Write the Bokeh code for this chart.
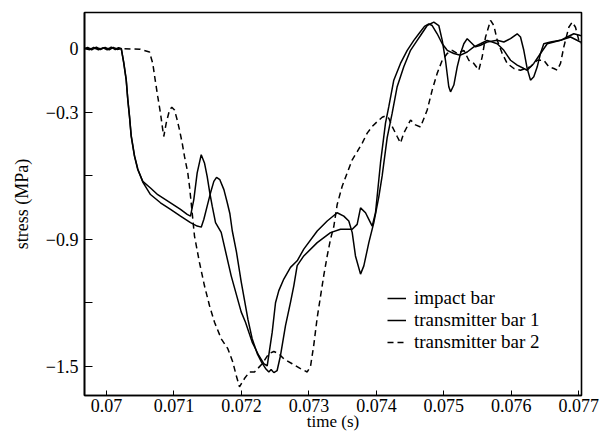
import math
from bokeh.plotting import figure
from bokeh.models import (FixedTicker, CustomJSTickFormatter, Legend,
                          LegendItem, Range1d)
from bokeh.embed import file_html
from bokeh.resources import INLINE

# ---------------- data (time in s, stress in MPa) ----------------
impact_t = [0.069674, 0.06972, 0.06978, 0.06985, 0.06991, 0.06998, 0.07004, 0.07010, 0.07016, 0.07022,
            0.070256, 0.070292, 0.070316, 0.070341, 0.070366, 0.070415, 0.070464, 0.070538, 0.070652,
            0.070760, 0.070949, 0.071097, 0.071196, 0.071245, 0.071294, 0.071344, 0.071404, 0.071452,
            0.071492, 0.071531, 0.071567, 0.071616, 0.071700, 0.071848, 0.071996, 0.072060, 0.072159,
            0.072257, 0.072331, 0.072382, 0.072405, 0.072456, 0.072505, 0.072554, 0.072628, 0.072727,
            0.072826, 0.072924, 0.073123, 0.073271, 0.073419, 0.073517, 0.073591, 0.073642, 0.073690,
            0.073765, 0.073814, 0.073888, 0.073962, 0.074036, 0.074086, 0.074160, 0.074234, 0.074308,
            0.074406, 0.074506, 0.074605, 0.074654, 0.074753, 0.074851, 0.074925, 0.074976, 0.075024,
            0.075073, 0.075099, 0.075148, 0.075198, 0.075247, 0.075296, 0.075346, 0.075395, 0.075469,
            0.075543, 0.075642, 0.075791, 0.075889, 0.075988, 0.076087, 0.076136, 0.076185, 0.076235,
            0.076284, 0.076333, 0.076384, 0.076432, 0.076481, 0.076581, 0.076729, 0.076828, 0.076926,
            0.077025, 0.07705]
impact_s = [0.0, 0.006, -0.006, 0.007, -0.005, 0.006, -0.006, 0.006, -0.004, 0.0,
            -0.070, -0.149, -0.243, -0.321, -0.415, -0.509, -0.572, -0.627, -0.658,
            -0.690, -0.728, -0.759, -0.783, -0.791, -0.713, -0.587, -0.501, -0.540,
            -0.603, -0.681, -0.744, -0.822, -0.868, -1.073, -1.243, -1.292, -1.386,
            -1.449, -1.488, -1.498, -1.449, -1.339, -1.200, -1.143, -1.088, -1.033,
            -1.002, -0.947, -0.861, -0.814, -0.775, -0.791, -0.814, -0.869, -0.979,
            -1.065, -1.026, -0.916, -0.822, -0.700, -0.600, -0.420, -0.305, -0.180,
            -0.086, -0.008, 0.039, 0.062, 0.109, 0.125, 0.109, 0.039, -0.055,
            -0.180, -0.204, -0.172, -0.086, -0.023, 0.023, 0.047, 0.031, 0.008,
            0.016, 0.031, 0.039, 0.031, 0.047, 0.070, 0.055, -0.008, -0.094,
            -0.149, -0.133, -0.086, -0.023, 0.023, 0.031, 0.039, 0.055, 0.070,
            0.062, 0.060]

tb1_t = [0.069674, 0.06975, 0.06981, 0.06988, 0.06995, 0.07001, 0.07007, 0.07013, 0.07018, 0.070218,
         0.070256, 0.070292, 0.070316, 0.070341, 0.070366, 0.070415, 0.070464, 0.070538, 0.070652,
         0.070800, 0.070949, 0.071097, 0.071245, 0.071344, 0.071404, 0.071443, 0.071492, 0.071542,
         0.071591, 0.071631, 0.071680, 0.071740, 0.071790, 0.071829, 0.071864, 0.071926, 0.071996,
         0.072097, 0.072159, 0.072234, 0.072298, 0.072357, 0.072406, 0.072440, 0.072480, 0.072529,
         0.072579, 0.072653, 0.072727, 0.072776, 0.072826, 0.072924, 0.073123, 0.073320, 0.073468,
         0.073642, 0.073715, 0.073765, 0.073839, 0.073888, 0.073938, 0.073987, 0.074061, 0.074135,
         0.074184, 0.074258, 0.074357, 0.074457, 0.074555, 0.074629, 0.074713, 0.074777, 0.074827,
         0.074901, 0.074976, 0.075050, 0.075148, 0.075247, 0.075346, 0.075444, 0.075543, 0.075642,
         0.075791, 0.075889, 0.075988, 0.076087, 0.076185, 0.076235, 0.076333, 0.076432, 0.076532,
         0.076729, 0.076877, 0.077025, 0.07705]
tb1_s = [0.0, -0.005, 0.006, -0.006, 0.005, -0.006, 0.007, -0.005, 0.004, 0.0,
         -0.065, -0.145, -0.240, -0.320, -0.410, -0.505, -0.568, -0.630, -0.689,
         -0.728, -0.759, -0.791, -0.822, -0.838, -0.843, -0.806, -0.744, -0.681,
         -0.627, -0.608, -0.619, -0.666, -0.728, -0.780, -0.860, -0.960, -1.100,
         -1.280, -1.370, -1.440, -1.480, -1.510, -1.527, -1.515, -1.530, -1.520,
         -1.449, -1.308, -1.198, -1.120, -1.025, -0.979, -0.916, -0.869, -0.853,
         -0.853, -0.830, -0.752, -0.775, -0.806, -0.838, -0.775, -0.540, -0.352,
         -0.274, -0.149, -0.070, -0.008, 0.039, 0.070, 0.105, 0.117, 0.109,
         0.070, 0.023, -0.008, -0.023, -0.031, -0.016, 0.008, 0.023, 0.039,
         0.023, -0.008, -0.055, -0.078, -0.094, -0.102, -0.070, -0.023, 0.023,
         0.039, 0.055, 0.031, 0.030]

tb2_t = [0.069674, 0.07022, 0.07050, 0.070637, 0.070686, 0.070722, 0.070760, 0.070800, 0.070834,
         0.070849, 0.070885, 0.070934, 0.070968, 0.071008, 0.071048, 0.071082, 0.071122, 0.071156,
         0.071205, 0.071230, 0.071255, 0.071304, 0.071378, 0.071452, 0.071527, 0.071601, 0.071700,
         0.071798, 0.071872, 0.071922, 0.071971, 0.072045, 0.072119, 0.072194, 0.072308, 0.072405,
         0.072480, 0.072554, 0.072628, 0.072752, 0.072875, 0.072975, 0.073024, 0.073072, 0.073123,
         0.073172, 0.073221, 0.073271, 0.073320, 0.073369, 0.073419, 0.073493, 0.073567, 0.073642,
         0.073716, 0.073790, 0.073864, 0.073938, 0.074012, 0.074086, 0.074135, 0.074184, 0.074234,
         0.074308, 0.074357, 0.074406, 0.074457, 0.074506, 0.074580, 0.074654, 0.074753, 0.074827,
         0.074901, 0.074976, 0.075050, 0.075124, 0.075198, 0.075296, 0.075370, 0.075444, 0.075518,
         0.075568, 0.075618, 0.075692, 0.075741, 0.075791, 0.075865, 0.075939, 0.076038, 0.076136,
         0.076284, 0.076384, 0.076481, 0.076556, 0.076630, 0.076680, 0.076729, 0.076778, 0.076852,
         0.076902, 0.076951, 0.077001, 0.07704]
tb2_s = [0.0, 0.0, -0.003, -0.016, -0.070, -0.149, -0.227, -0.305, -0.384,
         -0.415, -0.352, -0.290, -0.277, -0.290, -0.337, -0.384, -0.446, -0.509,
         -0.587, -0.650, -0.728, -0.885, -1.010, -1.120, -1.214, -1.292, -1.370,
         -1.417, -1.480, -1.543, -1.597, -1.558, -1.527, -1.527, -1.488, -1.441,
         -1.430, -1.441, -1.465, -1.488, -1.511, -1.527, -1.500, -1.400, -1.270,
         -1.170, -1.070, -0.979, -0.900, -0.840, -0.736, -0.650, -0.587, -0.525,
         -0.486, -0.446, -0.399, -0.368, -0.345, -0.324, -0.318, -0.329, -0.368,
         -0.415, -0.446, -0.399, -0.368, -0.337, -0.360, -0.370, -0.290, -0.196,
         -0.117, -0.055, -0.023, -0.008, -0.023, -0.008, -0.055, -0.070, -0.102,
         -0.039, 0.055, 0.133, 0.109, 0.039, -0.023, -0.070, -0.094, -0.102,
         -0.086, -0.055, -0.055, -0.086, -0.094, -0.102, -0.070, 0.008, 0.101,
         0.125, 0.101, 0.039, 0.023]

series_labels = ["impact bar", "transmitter bar 1", "transmitter bar 2"]
x_ticks = [0.070, 0.071, 0.072, 0.073, 0.074, 0.075, 0.076, 0.077]
y_ticks = [0.0, -0.3, -0.9, -1.5]
y_minor_ticks = [-0.6, -1.2]
x_label = "time (s)"
y_label = "stress (MPa)"

FONT = "Liberation Serif"

p = figure(width=606, height=433, output_backend="svg", toolbar_location=None,
           x_range=Range1d(0.069674, 0.07704), y_range=Range1d(-1.638, 0.1705),
           min_border_left=84, min_border_right=25, min_border_top=12, min_border_bottom=36)
p.grid.visible = False
p.outline_line_color = "black"
p.outline_line_width = 1.6
p.background_fill_color = "white"
p.border_fill_color = "white"

r1 = p.line(impact_t, impact_s, line_color="black", line_width=1.5)
r2 = p.line(tb1_t, tb1_s, line_color="black", line_width=1.5)
r3 = p.line(tb2_t, tb2_s, line_color="black", line_width=1.5, line_dash="6 4")

xa = p.xaxis[0]
xa.ticker = FixedTicker(ticks=x_ticks, minor_ticks=[])
xa.formatter = CustomJSTickFormatter(code="return tick.toFixed(3).replace(/0+$/, '');")
ya = p.yaxis[0]
ya.ticker = FixedTicker(ticks=y_ticks, minor_ticks=y_minor_ticks)
ya.formatter = CustomJSTickFormatter(
    code="return Math.abs(tick) < 1e-9 ? '0' : '\u2212' + Math.abs(tick).toFixed(1);")

for ax in (xa, ya):
    ax.axis_line_color = "black"
    ax.axis_line_width = 1.6
    ax.major_tick_out = 0
    ax.minor_tick_out = 0
    ax.major_tick_line_color = "black"
    ax.minor_tick_line_color = "black"
    ax.major_label_text_font = FONT
    ax.major_label_text_font_size = "18px"
    ax.major_label_text_color = "black"
    ax.axis_label_text_font = FONT
    ax.axis_label_text_font_style = "normal"
    ax.axis_label_text_color = "black"

xa.axis_label = x_label
xa.axis_label_text_font_size = "17px"
xa.major_tick_in = 5
xa.minor_tick_in = 0
xa.major_label_standoff = 3
xa.axis_label_standoff = -3

ya.axis_label = y_label
ya.axis_label_text_font_size = "18px"
ya.major_tick_in = 8
ya.minor_tick_in = 8
ya.major_label_standoff = 6
ya.axis_label_standoff = 11

legend = Legend(items=[LegendItem(label=series_labels[0], renderers=[r1]),
                       LegendItem(label=series_labels[1], renderers=[r2]),
                       LegendItem(label=series_labels[2], renderers=[r3])],
                location=(303, 42))
legend.label_text_font = FONT
legend.label_text_font_size = "19px"
legend.label_text_color = "black"
legend.glyph_width = 19
legend.glyph_height = 20
legend.label_height = 20
legend.label_standoff = 8
legend.spacing = 0
legend.padding = 0
legend.margin = 0
legend.border_line_alpha = 0
legend.background_fill_alpha = 0
p.add_layout(legend)

open("out.html", "w").write(file_html(p, INLINE))
